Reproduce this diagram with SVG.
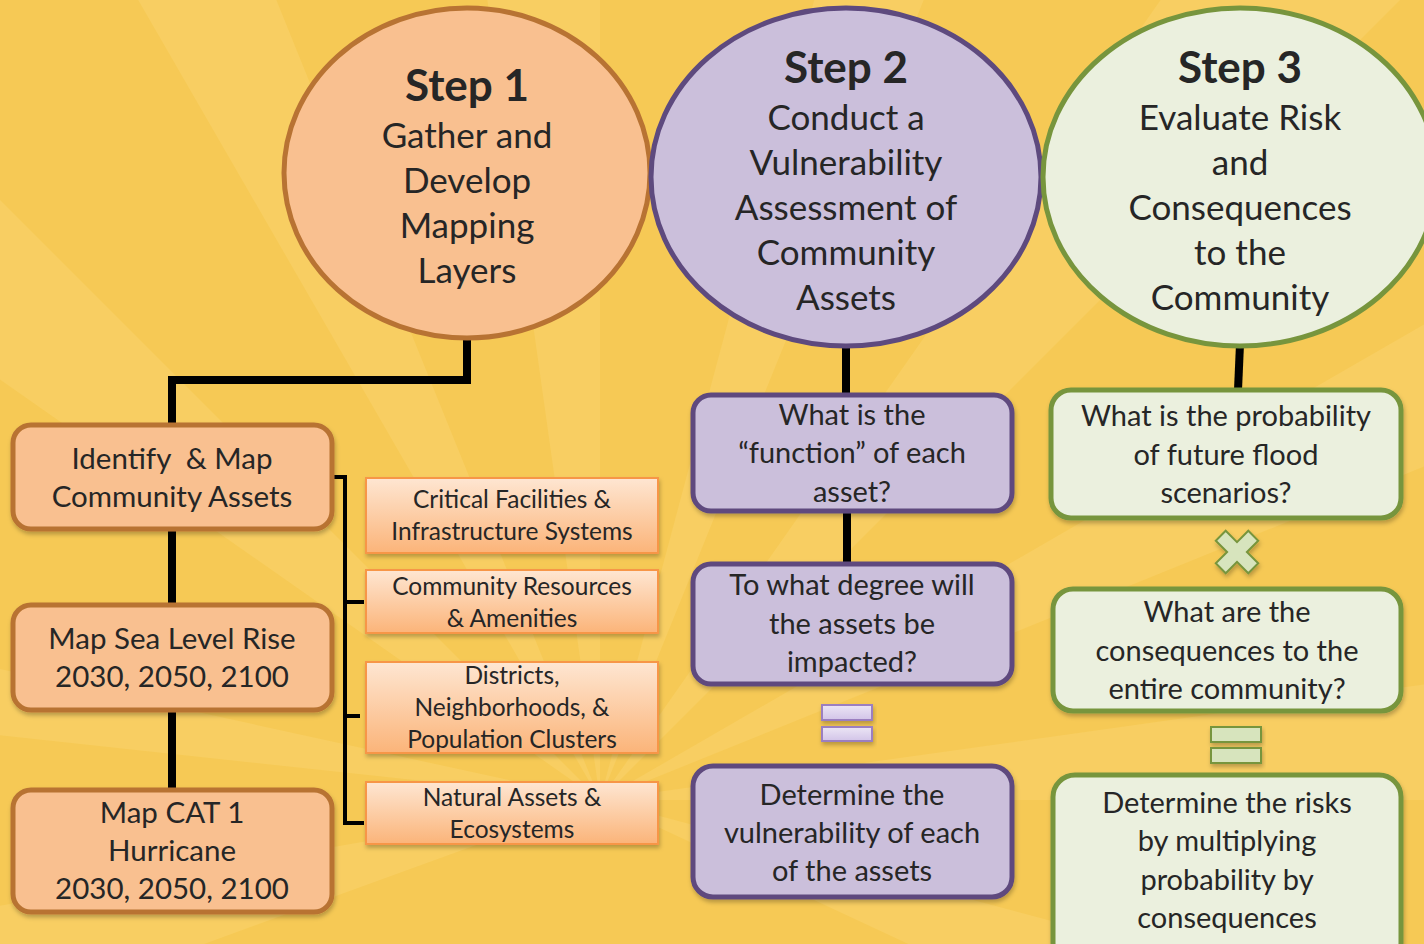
<svg xmlns="http://www.w3.org/2000/svg" width="1424" height="944" viewBox="0 0 1424 944">
<defs>
<linearGradient id="gOr" x1="0" y1="0" x2="0" y2="1"><stop offset="0" stop-color="#fee6d2"/><stop offset="1" stop-color="#fbb479"/></linearGradient>
<linearGradient id="gPu" x1="0" y1="0" x2="0" y2="1"><stop offset="0" stop-color="#ece6f5"/><stop offset="1" stop-color="#d2c4e8"/></linearGradient>
<filter id="sh" x="-10%" y="-10%" width="120%" height="130%"><feDropShadow dx="1" dy="3" stdDeviation="2" flood-color="#000" flood-opacity="0.25"/></filter>
<style>
.t{font-family:Lato,"Open Sans","Liberation Sans",sans-serif;fill:#262626;text-anchor:middle;white-space:pre}
.ttl{font-size:44px;font-weight:bold}
.sub{font-size:35px}
.m{font-size:29.5px}
.q{font-size:29px}
.s{font-size:24.5px}
.or{fill:#f9c090;stroke:#b87333;stroke-width:5}
.pu{fill:#cbbfdb;stroke:#5e4a7e;stroke-width:5}
.gr{fill:#ebf0de;stroke:#77953d;stroke-width:5}
.sm{fill:url(#gOr);stroke:#f79646;stroke-width:2}
.con{fill:none;stroke:#000;stroke-width:8;stroke-linejoin:miter}
.br{fill:none;stroke:#000;stroke-width:4}
</style>
</defs>
<rect width="1424" height="944" fill="#f6c955"/>
<g fill="#fad46f" opacity="0.5">
<polygon points="600,800 -1976,522 -1904,253"/>
<polygon points="600,800 -710,-118 -531,-331"/>
<polygon points="600,800 -200,-586 0,-683"/>
<polygon points="600,800 377,-784 600,-800"/>
<polygon points="600,800 1014,-746 1200,-683"/>
<polygon points="600,800 1518,-510 1731,-331"/>
<polygon points="600,800 1986,0 2083,200"/>
<polygon points="600,800 2184,578 2200,800"/>
<polygon points="600,800 2146,1214 2050,1477"/>
<polygon points="600,800 -904,1347 -976,1078"/>
</g>
<g id="connectors">
<polyline class="con" points="467,336 467,380 172,380 172,426"/>
<line class="con" x1="172" y1="530" x2="172" y2="604"/>
<line class="con" x1="172" y1="711" x2="172" y2="789"/>
<polyline class="br" points="332,477 345,477 345,823 364,823"/>
<line class="br" x1="345" y1="602" x2="364" y2="602"/>
<line class="br" x1="345" y1="716" x2="360" y2="716"/>
<line class="con" x1="846" y1="345" x2="846" y2="395"/>
<line class="con" x1="847" y1="512" x2="847" y2="564"/>
<line class="con" x1="1240" y1="344" x2="1238" y2="390"/>
</g>
<g id="step1">
<ellipse class="or" cx="467" cy="173" rx="183" ry="165"/>
<text class="t ttl" x="467" y="101">Step 1</text>
<text class="t sub" x="467" y="148">Gather and</text>
<text class="t sub" x="467" y="193">Develop</text>
<text class="t sub" x="467" y="238">Mapping</text>
<text class="t sub" x="467" y="283">Layers</text>
</g>
<g id="step2">
<ellipse class="pu" cx="846" cy="177" rx="195" ry="169"/>
<text class="t ttl" x="846" y="83">Step 2</text>
<text class="t sub" x="846" y="130">Conduct a</text>
<text class="t sub" x="846" y="175">Vulnerability</text>
<text class="t sub" x="846" y="220">Assessment of</text>
<text class="t sub" x="846" y="265">Community</text>
<text class="t sub" x="846" y="310">Assets</text>
</g>
<g id="step3">
<ellipse class="gr" cx="1240" cy="177" rx="197" ry="169"/>
<text class="t ttl" x="1240" y="83">Step 3</text>
<text class="t sub" x="1240" y="130">Evaluate Risk</text>
<text class="t sub" x="1240" y="175">and</text>
<text class="t sub" x="1240" y="220">Consequences</text>
<text class="t sub" x="1240" y="265">to the</text>
<text class="t sub" x="1240" y="310">Community</text>
</g>
<g id="identify">
<rect class="or" x="13" y="425" width="319" height="104" rx="18" filter="url(#sh)"/>
<text class="t m" x="172" y="469" xml:space="preserve">Identify  &amp; Map</text>
<text class="t m" x="172" y="507">Community Assets</text>
</g>
<g id="sealevel">
<rect class="or" x="13" y="605" width="319" height="105" rx="18" filter="url(#sh)"/>
<text class="t m" x="172" y="649">Map Sea Level Rise</text>
<text class="t m" x="172" y="687">2030, 2050, 2100</text>
</g>
<g id="cat1">
<rect class="or" x="13" y="790" width="319" height="122" rx="18" filter="url(#sh)"/>
<text class="t m" x="172" y="823">Map CAT 1</text>
<text class="t m" x="172" y="861">Hurricane</text>
<text class="t m" x="172" y="899">2030, 2050, 2100</text>
</g>
<g id="critical">
<rect class="sm" x="366" y="478" width="292" height="75" filter="url(#sh)"/>
<text class="t s" x="512" y="508">Critical Facilities &amp;</text>
<text class="t s" x="512" y="540">Infrastructure Systems</text>
</g>
<g id="resources">
<rect class="sm" x="366" y="570" width="292" height="63" filter="url(#sh)"/>
<text class="t s" x="512" y="595">Community Resources</text>
<text class="t s" x="512" y="627">&amp; Amenities</text>
</g>
<g id="districts">
<rect class="sm" x="366" y="662" width="292" height="91" filter="url(#sh)"/>
<text class="t s" x="512" y="684">Districts,</text>
<text class="t s" x="512" y="716">Neighborhoods, &amp;</text>
<text class="t s" x="512" y="748">Population Clusters</text>
</g>
<g id="natural">
<rect class="sm" x="366" y="782" width="292" height="62" filter="url(#sh)"/>
<text class="t s" x="512" y="806">Natural Assets &amp;</text>
<text class="t s" x="512" y="838">Ecosystems</text>
</g>
<g id="function">
<rect class="pu" x="693" y="395" width="319" height="116" rx="18" filter="url(#sh)"/>
<text class="t q" x="852" y="425">What is the</text>
<text class="t q" x="852" y="463">“function” of each</text>
<text class="t q" x="852" y="502">asset?</text>
</g>
<g id="degree">
<rect class="pu" x="693" y="564" width="319" height="120" rx="18" filter="url(#sh)"/>
<text class="t q" x="852" y="595">To what degree will</text>
<text class="t q" x="852" y="634">the assets be</text>
<text class="t q" x="852" y="672">impacted?</text>
</g>
<g id="equals2" filter="url(#sh)">
<rect x="822" y="705" width="50" height="15" fill="url(#gPu)" stroke="#9b7fc0" stroke-width="2"/>
<rect x="822" y="727" width="50" height="14" fill="url(#gPu)" stroke="#9b7fc0" stroke-width="2"/>
</g>
<g id="vulnerability">
<rect class="pu" x="693" y="766" width="319" height="131" rx="20" filter="url(#sh)"/>
<text class="t q" x="852" y="805">Determine the</text>
<text class="t q" x="852" y="843">vulnerability of each</text>
<text class="t q" x="852" y="881">of the assets</text>
</g>
<g id="probability">
<rect class="gr" x="1051" y="390" width="350" height="128" rx="20" filter="url(#sh)"/>
<text class="t q" x="1226" y="426">What is the probability</text>
<text class="t q" x="1226" y="465">of future flood</text>
<text class="t q" x="1226" y="503">scenarios?</text>
</g>
<g id="times" filter="url(#sh)">
<polygon transform="translate(1237,552) rotate(45)" points="-7,-23 7,-23 7,-7 23,-7 23,7 7,7 7,23 -7,23 -7,7 -23,7 -23,-7 -7,-7" fill="#d7e4bd" stroke="#77953d" stroke-width="2"/>
</g>
<g id="consequences">
<rect class="gr" x="1053" y="589" width="348" height="122" rx="20" filter="url(#sh)"/>
<text class="t q" x="1227" y="622">What are the</text>
<text class="t q" x="1227" y="661">consequences to the</text>
<text class="t q" x="1227" y="699">entire community?</text>
</g>
<g id="equals3" filter="url(#sh)">
<rect x="1211" y="727" width="50" height="15" fill="#d7e4bd" stroke="#77953d" stroke-width="2"/>
<rect x="1211" y="748" width="50" height="15" fill="#d7e4bd" stroke="#77953d" stroke-width="2"/>
</g>
<g id="risks">
<rect class="gr" x="1053" y="775" width="348" height="190" rx="22" filter="url(#sh)"/>
<text class="t q" x="1227" y="813">Determine the risks</text>
<text class="t q" x="1227" y="851">by multiplying</text>
<text class="t q" x="1227" y="890">probability by</text>
<text class="t q" x="1227" y="928">consequences</text>
</g>
</svg>
